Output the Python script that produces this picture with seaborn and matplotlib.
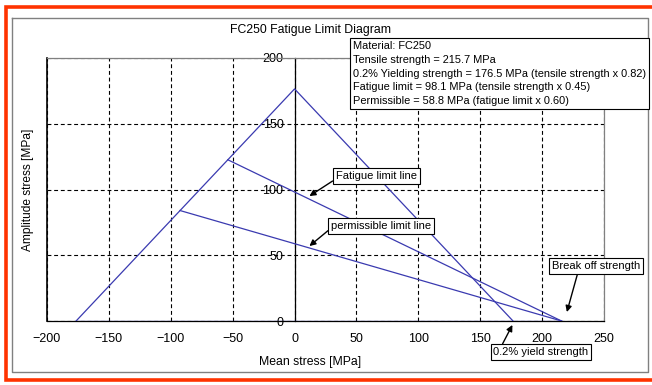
import matplotlib
matplotlib.use('Agg')
import matplotlib.pyplot as plt
import matplotlib.lines as mlines
import pandas as pd
import seaborn as sns

# material values [MPa]
tensile = 215.7
yield_strength = 176.5
fatigue_limit = 98.1
permissible = 58.8

# diagram lines (mean stress, amplitude stress)
yield_x = [-176.5, 0, 176.5]
yield_y = [0, 176.5, 0]
fatigue_x = [-53.9, 215.7]
fatigue_y = [122.6, 0]
permiss_x = [-92.5, 215.7]
permiss_y = [84.0, 0]
base_x = [-176.5, 215.7]
base_y = [0, 0]

x_ticks = [-200, -150, -100, -50, 0, 50, 100, 150, 200, 250]
y_ticks = [0, 50, 100, 150, 200]

info_lines = [
    'Material: FC250',
    'Tensile strength = 215.7 MPa',
    '0.2% Yielding strength = 176.5 MPa (tensile strength x 0.82)',
    'Fatigue limit = 98.1 MPa (tensile strength x 0.45)',
    'Permissible = 58.8 MPa (fatigue limit x 0.60)',
]

rows = []
for name, xs, ys in [('yield', yield_x, yield_y), ('fatigue', fatigue_x, fatigue_y),
                     ('permissible', permiss_x, permiss_y), ('base', base_x, base_y)]:
    for i, (xv, yv) in enumerate(zip(xs, ys)):
        rows.append({'line': name, 'order': i, 'x': xv, 'y': yv})
df = pd.DataFrame(rows)

plt.rcParams['font.family'] = ['Liberation Sans', 'DejaVu Sans']

W, H = 652, 385
fig = plt.figure(figsize=(W / 100, H / 100), dpi=100)
ax = fig.add_axes([47 / W, 1 - 321 / H, 557 / W, 263 / H])

blue = '#3a3ab0'
sns.lineplot(data=df, x='x', y='y', hue='line', units='line', estimator=None, sort=False,
             palette={'yield': blue, 'fatigue': blue, 'permissible': blue, 'base': blue},
             legend=False, linewidth=0.9, ax=ax, zorder=3)

ax.set_xlim(-200, 250)
ax.set_ylim(0, 200)
ax.set_xticks(x_ticks)
ax.set_yticks(y_ticks)
ax.grid(True, linestyle=(0, (3.5, 2.5)), color='black', linewidth=0.8)
ax.set_axisbelow(True)

ax.spines['left'].set_position(('data', 0))
ax.spines['left'].set_color('black')
ax.spines['bottom'].set_color('black')
ax.spines['top'].set_color('#808080')
ax.spines['right'].set_color('#808080')
for s in ax.spines.values():
    s.set_linewidth(0.9)
ax.axvline(-200, color='black', linewidth=1.2, clip_on=False, zorder=2.5)

ax.tick_params(axis='x', length=0, pad=9, labelsize=9)
ax.tick_params(axis='y', length=0, pad=8, labelsize=9)

ax.set_xlabel('Mean stress [MPa]', fontsize=8.8)
ax.xaxis.set_label_coords((310 - 47) / 557, (321 - 356) / 263)
ax.set_ylabel('Amplitude stress [MPa]', fontsize=8.6)
ax.yaxis.set_label_coords((34 - 47) / 557, (321 - 190) / 263)

box = dict(boxstyle='square,pad=0.25', fc='white', ec='black', lw=0.8)
arrow = dict(arrowstyle='-|>', color='black', lw=1.0, mutation_scale=9, shrinkA=0, shrinkB=0)

ax.annotate('Fatigue limit line', xy=(12, 95), xytext=(66, 110.3), ha='center', va='center',
            fontsize=8, bbox=box, arrowprops=dict(arrow, relpos=(0, 0.2)), annotation_clip=False, zorder=5)
ax.annotate('permissible limit line', xy=(12, 57), xytext=(70, 72.2), ha='center', va='center',
            fontsize=8, bbox=box, arrowprops=dict(arrow, relpos=(0, 0.3)), annotation_clip=False, zorder=5)
ax.annotate('Break off strength', xy=(220, 6.8), xytext=(243.5, 41.8), ha='center', va='center',
            fontsize=8, bbox=box, arrowprops=dict(arrow, relpos=(0.3, 0)), annotation_clip=False, zorder=5)
ax.annotate('0.2% yield strength', xy=(176, -3), xytext=(199, -23.6), ha='center', va='center',
            fontsize=8, bbox=box, arrowprops=dict(arrow, relpos=(0.08, 1)), annotation_clip=False, zorder=5)

fig.text(353 / W, 1 - 41 / H, '\n'.join(info_lines), ha='left', va='top', fontsize=7.95,
         linespacing=1.47, bbox=dict(boxstyle='square,pad=0.3', fc='white', ec='black', lw=0.8), zorder=10)

fig.text(311 / W, 1 - 30 / H, 'FC250 Fatigue Limit Diagram', ha='center', va='center', fontsize=8.8)

# outer frames (grey inner frame, orange border cut off on the right)
fig.add_artist(mlines.Line2D([12 / W, 648 / W, 648 / W, 12 / W, 12 / W],
                             [1 - 18 / H, 1 - 18 / H, 1 - 372 / H, 1 - 372 / H, 1 - 18 / H],
                             transform=fig.transFigure, color='#808080', lw=1.0, zorder=0))
fig.add_artist(mlines.Line2D([1.1, 6 / W, 6 / W, 1.1],
                             [1 - 7 / H, 1 - 7 / H, 1 - 380 / H, 1 - 380 / H],
                             transform=fig.transFigure, color='#ff3300', lw=2.6, zorder=0,
                             solid_joinstyle='miter'))

fig.savefig('out.png', dpi=100)
plt.close(fig)
